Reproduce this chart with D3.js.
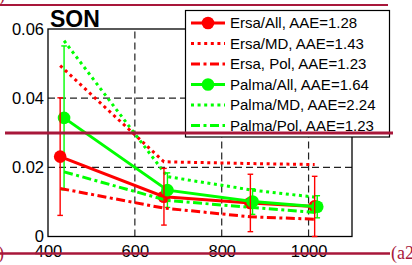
<!DOCTYPE html>
<html>
<head>
<meta charset="utf-8">
<script src="https://cdnjs.cloudflare.com/ajax/libs/d3/7.8.5/d3.min.js"></script>
<style>
  body { margin: 0; background: #fff; }
  svg { display: block; font-family: "Liberation Sans", Arial, sans-serif; }
</style>
</head>
<body>
<script>
// wavelength-like x positions (slightly offset per site)
var xErsa  = [428, 667, 866, 1014],
    xPalma = [437, 675, 871, 1020];

var ersaAll     = [0.0231, 0.0115, 0.0097, 0.0087],
    ersaAllErr  = [0.0170, 0.0082, 0.0083, 0.0087],
    ersaMD      = [0.0494, 0.0216, 0.0211, 0.0208],
    ersaPol     = [0.0139, 0.0082, 0.0057, 0.0050];

var palmaAll    = [0.0343, 0.0134, 0.0101, 0.0086],
    palmaAllErr = [0.0208, 0.0050, 0.0037, 0.0032],
    palmaMD     = [0.0566, 0.0173, 0.0134, 0.0113],
    palmaPol    = [0.0187, 0.0104, 0.0084, 0.0069];

var xTicks = [400, 600, 800, 1000],
    yTicks = [0, 0.02, 0.04, 0.06];

var legendLabels = ["Ersa/All, AAE=1.28", "Ersa/MD, AAE=1.43", "Ersa, Pol, AAE=1.23",
                    "Palma/All, AAE=1.64", "Palma/MD, AAE=2.24", "Palma/Pol, AAE=1.23"];

var width = 412, height = 265;
var margin = {left: 48, top: 29, right: 60, bottom: 28};

var red = "#ff0000", green = "#00ff00", annot = "#a8173a";

var x = d3.scaleLinear().domain([400, 1100]).range([margin.left, 352]);
var y = d3.scaleLinear().domain([0, 0.06]).range([236.5, margin.top]);

var svg = d3.select("body").append("svg")
    .attr("width", width)
    .attr("height", height);

// grid
var grid = svg.append("g").attr("stroke", "#222").attr("stroke-width", 1.2)
    .attr("stroke-dasharray", "7,4");
grid.selectAll(".gx").data(xTicks.slice(1)).enter().append("line")
    .attr("x1", function(d) { return x(d); }).attr("x2", function(d) { return x(d); })
    .attr("y1", y(0)).attr("y2", y(0.06));
grid.selectAll(".gy").data(yTicks.slice(1, 3)).enter().append("line")
    .attr("x1", x(400)).attr("x2", x(1100))
    .attr("y1", function(d) { return y(d); }).attr("y2", function(d) { return y(d); });

// axes
var xAxis = svg.append("g")
    .attr("transform", "translate(0," + y(0) + ")")
    .call(d3.axisBottom(x).tickValues(xTicks).tickSize(0).tickPadding(6).tickFormat(d3.format("d")));
var yAxis = svg.append("g")
    .attr("transform", "translate(" + x(400) + ",0)")
    .call(d3.axisLeft(y).tickValues(yTicks).tickSize(0).tickPadding(4)
      .tickFormat(function(d) { return d === 0 ? "0" : d3.format(".2f")(d); }));
[xAxis, yAxis].forEach(function(a) {
  a.select(".domain").remove();
  a.selectAll("text").style("font-size", "16.5px").attr("fill", "#000")
    .style("font-family", "'Liberation Sans', Arial, sans-serif");
});
xAxis.selectAll("text").attr("dy", "0.85em");

svg.append("rect")
    .attr("x", x(400)).attr("y", y(0.06))
    .attr("width", x(1100) - x(400)).attr("height", y(0) - y(0.06))
    .attr("fill", "none").attr("stroke", "#000").attr("stroke-width", 1.3);

svg.append("text")
    .attr("x", 50).attr("y", 27)
    .style("font-weight", "bold").style("font-size", "23px")
    .text("SON");

var series = [
  {xs: xErsa,  vals: ersaAll,  color: red,   dash: null,        marker: true},
  {xs: xErsa,  vals: ersaMD,   color: red,   dash: "3,3.6",     marker: false},
  {xs: xErsa,  vals: ersaPol,  color: red,   dash: "9,3.5,3,3.5", marker: false},
  {xs: xPalma, vals: palmaAll, color: green, dash: null,        marker: true},
  {xs: xPalma, vals: palmaMD,  color: green, dash: "3,3.6",     marker: false},
  {xs: xPalma, vals: palmaPol, color: green, dash: "9,3.5,3,3.5", marker: false}
];

var line = d3.line()
    .x(function(d) { return x(d[0]); })
    .y(function(d) { return y(d[1]); });

function errBars(xs, vals, errs, color) {
  var g = svg.append("g").attr("stroke", color).attr("stroke-width", 1.4).attr("fill", "none");
  var pts = d3.zip(xs, vals, errs);
  g.selectAll(".v").data(pts).enter().append("line")
      .attr("x1", function(d) { return x(d[0]); }).attr("x2", function(d) { return x(d[0]); })
      .attr("y1", function(d) { return y(d[1] - d[2]); })
      .attr("y2", function(d) { return y(d[1] + d[2]); });
  [-1, 1].forEach(function(s) {
    g.selectAll(".c" + s).data(pts).enter().append("line")
        .attr("x1", function(d) { return x(d[0]) - 2.8; }).attr("x2", function(d) { return x(d[0]) + 2.8; })
        .attr("y1", function(d) { return y(d[1] + s * d[2]); })
        .attr("y2", function(d) { return y(d[1] + s * d[2]); });
  });
}

errBars(xPalma, palmaAll, palmaAllErr, green);

series.forEach(function(s) {
  svg.append("path")
      .datum(d3.zip(s.xs, s.vals))
      .attr("d", line)
      .attr("fill", "none")
      .attr("stroke", s.color)
      .attr("stroke-width", 3)
      .attr("stroke-dasharray", s.dash);
  if (s.marker) {
    svg.selectAll(null).data(d3.zip(s.xs, s.vals)).enter().append("circle")
        .attr("cx", function(d) { return x(d[0]); })
        .attr("cy", function(d) { return y(d[1]); })
        .attr("r", 6.3)
        .attr("fill", s.color);
  }
});

errBars(xErsa, ersaAll, ersaAllErr, red);

// legend
var legend = svg.append("g");
legend.append("rect")
    .attr("x", 185.5).attr("y", 10.5).attr("width", 204).attr("height", 126.5)
    .attr("fill", "#fff").attr("stroke", "#000").attr("stroke-width", 1.2);
var items = legend.selectAll(".item").data(series).enter().append("g")
    .attr("transform", function(d, i) { return "translate(0," + (23 + 20.5 * i) + ")"; });
items.append("line")
    .attr("x1", 191).attr("x2", 225).attr("y1", 0).attr("y2", 0)
    .attr("stroke", function(d) { return d.color; })
    .attr("stroke-width", 3)
    .attr("stroke-dasharray", function(d) { return d.dash; });
items.filter(function(d) { return d.marker; }).append("circle")
    .attr("cx", 208).attr("cy", 0).attr("r", 6.3)
    .attr("fill", function(d) { return d.color; });
items.append("text")
    .attr("x", 230).attr("y", 0).attr("dy", "0.36em")
    .style("font-size", "15px")
    .text(function(d, i) { return legendLabels[i]; });

// page annotation overlay (rules and panel labels)
var ann = svg.append("g").attr("stroke", annot);
ann.append("line").attr("x1", 0).attr("x2", 388).attr("y1", 5).attr("y2", 5).attr("stroke-width", 2);
ann.append("line").attr("x1", 5).attr("x2", 393).attr("y1", 133).attr("y2", 133).attr("stroke-width", 3);
ann.append("line").attr("x1", 0).attr("x2", 390).attr("y1", 253.5).attr("y2", 253.5).attr("stroke-width", 2.5);
svg.append("text").attr("x", -1).attr("y", 1).attr("fill", annot)
    .style("font-family", "'Liberation Serif', serif").style("font-size", "18px").text(")");
svg.append("text").attr("x", -2).attr("y", 259).attr("fill", annot)
    .style("font-family", "'Liberation Serif', serif").style("font-size", "18px").text(")");
svg.append("text").attr("x", 391).attr("y", 259).attr("fill", annot)
    .style("font-family", "'Liberation Serif', serif").style("font-size", "18px").text("(a2)");
</script>
</body>
</html>
